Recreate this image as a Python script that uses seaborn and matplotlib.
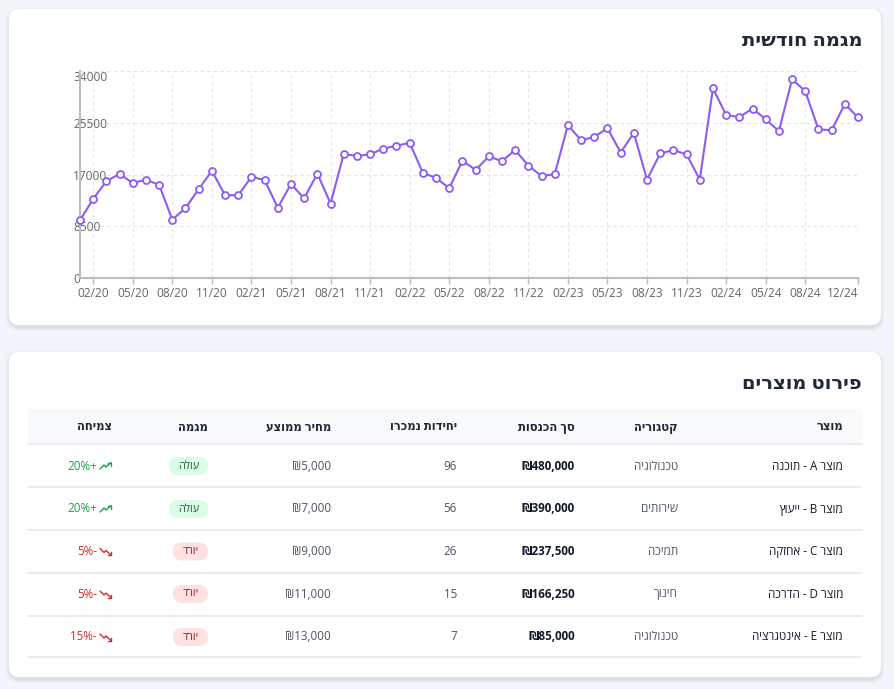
import numpy as np
import pandas as pd
import matplotlib
matplotlib.use('Agg')
import matplotlib.pyplot as plt
from matplotlib.patches import FancyBboxPatch
import seaborn as sns

# monthly series 01/2020 .. 12/2024
months = pd.date_range('2020-01-01', periods=60, freq='MS').strftime('%m/%y').tolist()
monthly_values = [
    9500, 13000, 15900, 17100, 15600, 16150, 15300, 9600, 11500, 14600, 17600, 13600,
    13600, 16600, 16100, 11550, 15450, 13100, 17150, 12250, 20350, 20050, 20300, 21250,
    21700, 22200, 17250, 16450, 14750, 19250, 17750, 19950, 19200, 21000, 18450, 16750,
    17050, 25100, 22600, 23150, 24600, 20600, 23800, 16150, 20450, 21000, 20300, 16150,
    31100, 26750, 26400, 27800, 26050, 24100, 32600, 30650, 24400, 24250, 28550, 26350,
]
x_tick_labels = ['02/20', '05/20', '08/20', '11/20', '02/21', '05/21', '08/21', '11/21',
                 '02/22', '05/22', '08/22', '11/22', '02/23', '05/23', '08/23', '11/23',
                 '02/24', '05/24', '08/24', '12/24']
y_ticks = [0, 8500, 17000, 25500, 34000]

# table data
headers = ['מוצר', 'קטגוריה', 'סך הכנסות', 'יחידות נמכרו', 'מחיר ממוצע', 'מגמה', 'צמיחה']
products = ['מוצר A - תוכנה', 'מוצר B - ייעוץ', 'מוצר C - אחזקה', 'מוצר D - הדרכה', 'מוצר E - אינטגרציה']
categories = ['טכנולוגיה', 'שירותים', 'תמיכה', 'חינוך', 'טכנולוגיה']
revenues = [480000, 390000, 237500, 166250, 85000]
units = [96, 56, 26, 15, 7]
avg_prices = [5000, 7000, 9000, 11000, 13000]
trends = ['עולה', 'עולה', 'יורד', 'יורד', 'יורד']
growth = [20, 20, -5, -5, -15]


def heb(s):
    """matplotlib has no bidi: put hebrew words in visual order."""
    out = []
    for w in reversed(s.split(' ')):
        if any('\u0590' <= c <= '\u05ff' for c in w):
            out.append(w[::-1])
        else:
            out.append(w)
    return ' '.join(out)


sns.set_theme(style='white')
plt.rcParams['font.family'] = ['Open Sans', 'DejaVu Sans']

W, H = 894, 689
fig = plt.figure(figsize=(W / 100, H / 100), dpi=100)
fig.patch.set_facecolor('#f2f5fa')

bg = fig.add_axes([0, 0, 1, 1], zorder=0)
bg.set_xlim(0, W)
bg.set_ylim(H, 0)
bg.axis('off')


def card(y0, y1):
    for i, a in enumerate([0.035, 0.03, 0.025, 0.02]):
        bg.add_patch(FancyBboxPatch((9 - i, y0 + 2 - i), 872 + 2 * i, y1 - y0 + 2 * i + 1,
                                    boxstyle='round,pad=0,rounding_size=11',
                                    fc='#1e2a50', ec='none', alpha=a))
    bg.add_patch(FancyBboxPatch((9, y0), 872, y1 - y0, boxstyle='round,pad=0,rounding_size=10',
                                fc='white', ec='none'))


card(9, 325)
card(352, 677)

bg.text(862, 41, heb('מגמה חודשית'), ha='right', va='center', fontsize=14,
        weight='bold', color='#1f2937')
bg.text(862, 384, heb('פירוט מוצרים'), ha='right', va='center', fontsize=14,
        weight='bold', color='#1f2937')

# line chart
ax = fig.add_axes([80 / W, 1 - 278.3 / H, 778 / W, 207.6 / H], zorder=2)
ax.set_facecolor('none')
df = pd.DataFrame({'idx': np.arange(len(monthly_values)), 'value': monthly_values})
sns.lineplot(data=df, x='idx', y='value', ax=ax, color='#8b5cf6', linewidth=1.5,
             marker='o', markersize=5, markerfacecolor='white', markeredgecolor='#8b5cf6',
             markeredgewidth=1.3, clip_on=False, zorder=3)
ax.set_xlim(0, len(monthly_values) - 1)
ax.set_ylim(0, 34000)
tick_pos = [months.index(t) for t in x_tick_labels]
ax.set_xticks(tick_pos)
ax.set_xticklabels(x_tick_labels)
ax.set_yticks(y_ticks)
ax.set_yticklabels([str(v) for v in y_ticks])
ax.set_xlabel('')
ax.set_ylabel('')
ax.grid(True, linestyle=(0, (3, 3)), color='#e4e4e4', linewidth=0.8)
for s in ['top', 'right']:
    ax.spines[s].set_visible(False)
for s in ['left', 'bottom']:
    ax.spines[s].set_color('#bcbcc4')
    ax.spines[s].set_linewidth(1.5)
ax.tick_params(axis='x', length=4, width=1, color='#bcbcc4', pad=2.5,
               labelsize=8.6, labelcolor='#666666', bottom=True)
ax.tick_params(axis='y', length=0, pad=5, labelsize=8.6, labelcolor='#666666')
for lab in ax.get_yticklabels():
    lab.set_horizontalalignment('left')
ax.get_yticklabels()[-1].set_verticalalignment('top')
ax.get_xticklabels()[-1].set_horizontalalignment('right')

# table
bg.add_patch(plt.Rectangle((28, 409), 834, 35, fc='#f8f9fb', ec='none'))
row_lines = [444, 487, 530, 573, 616, 657]
for yl in row_lines:
    bg.plot([28, 862], [yl, yl], color='#e5e7eb', lw=1.1)

col_right = [843, 678, 575, 457, 331, 208, 112]
for h, xr in zip(headers, col_right):
    bg.text(xr, 427, heb(h), ha='right', va='center', fontsize=8.4,
            weight='bold', color='#1f2937')

row_y = [466, 509, 551.5, 594, 637]
fs = 8.4
for i, y in enumerate(row_y):
    bg.text(col_right[0], y, heb(products[i]), ha='right', va='center', fontsize=fs, color='#111827')
    bg.text(col_right[1], y, heb(categories[i]), ha='right', va='center', fontsize=fs, color='#4b5563')
    bg.text(col_right[2], y, '₪{:,}'.format(revenues[i]), ha='right', va='center', fontsize=fs,
            weight='bold', color='#111827')
    bg.text(col_right[3], y, str(units[i]), ha='right', va='center', fontsize=fs, color='#4b5563')
    bg.text(col_right[4], y, '₪{:,}'.format(avg_prices[i]), ha='right', va='center', fontsize=fs,
            color='#4b5563')

    up = trends[i] == 'עולה'
    bw = 39 if up else 35
    bg.add_patch(FancyBboxPatch((col_right[5] - bw, y - 9), bw, 18,
                                boxstyle='round,pad=0,rounding_size=9',
                                fc='#dcfce7' if up else '#fee2e2', ec='none'))
    bg.text(col_right[5] - bw / 2, y, heb(trends[i]), ha='center', va='center', fontsize=7.8,
            color='#166534' if up else '#991b1b')

    gc = '#16a34a' if growth[i] > 0 else '#dc2626'
    g = abs(growth[i])
    txt = '{}%{}'.format(g, '+' if growth[i] > 0 else '-')
    bg.text(97, y, txt, ha='right', va='center', fontsize=fs, color=gc)
    # small trend icon
    ix0 = 100
    if up:
        xs = [ix0, ix0 + 4, ix0 + 6, ix0 + 11]
        ys = [y + 3, y - 1, y + 1, y - 3.5]
        bg.plot(xs, ys, color=gc, lw=1.0, solid_capstyle='round')
        bg.plot([ix0 + 8, ix0 + 11, ix0 + 11], [y - 3.5, y - 3.5, y - 0.5], color=gc, lw=1.0)
    else:
        xs = [ix0, ix0 + 4, ix0 + 6, ix0 + 11]
        ys = [y - 3, y + 1, y - 1, y + 3.5]
        bg.plot(xs, ys, color=gc, lw=1.0, solid_capstyle='round')
        bg.plot([ix0 + 8, ix0 + 11, ix0 + 11], [y + 3.5, y + 3.5, y + 0.5], color=gc, lw=1.0)

fig.savefig('out.png', dpi=100, facecolor=fig.get_facecolor())
